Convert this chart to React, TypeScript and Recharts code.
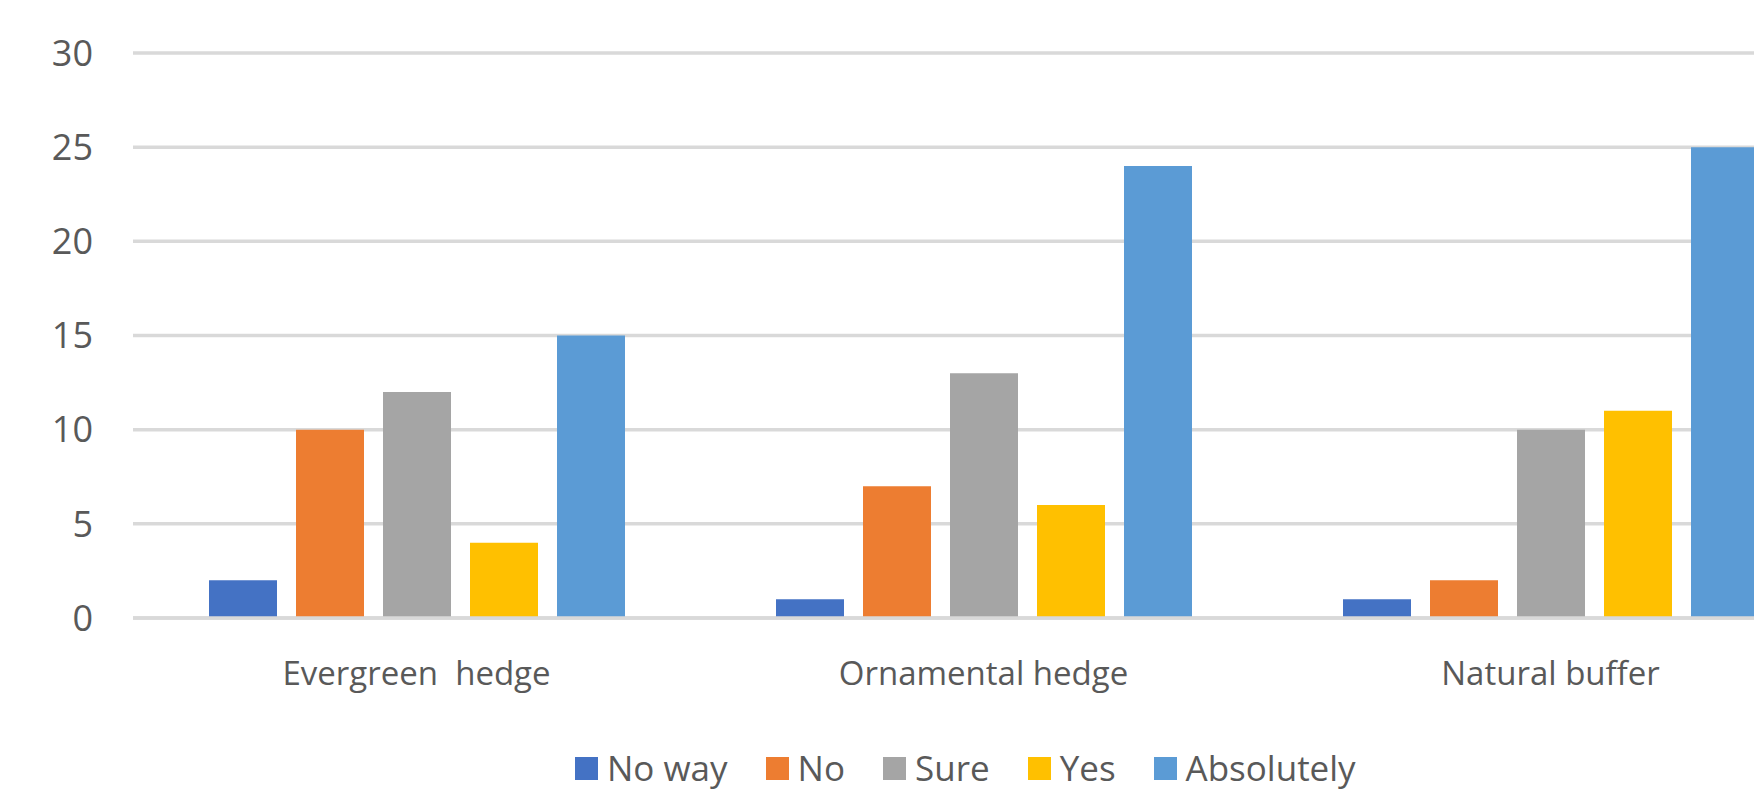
import { BarChart, Bar, XAxis, YAxis, CartesianGrid, Legend } from 'recharts'

// the first label keeps its double space (no-break space survives word splitting)
const categories = ['Evergreen\u00A0 hedge', 'Ornamental hedge', 'Natural buffer']
const noWay = [2, 1, 1]
const no = [10, 7, 2]
const sure = [12, 13, 10]
const yes = [4, 6, 11]
const absolutely = [15, 24, 25]
const yTicks = [0, 5, 10, 15, 20, 25, 30]

const series = [
  { key: 'noWay', name: 'No way', color: '#4472C4' },
  { key: 'no', name: 'No', color: '#ED7D31' },
  { key: 'sure', name: 'Sure', color: '#A5A5A5' },
  { key: 'yes', name: 'Yes', color: '#FFC000' },
  { key: 'absolutely', name: 'Absolutely', color: '#5B9BD5' },
]

const data = categories.map((name, i) => ({
  name,
  noWay: noWay[i],
  no: no[i],
  sure: sure[i],
  yes: yes[i],
  absolutely: absolutely[i],
}))

const FONT = '"Open Sans", sans-serif'
const TEXT = '#595959'

function LegendRow() {
  return (
    <div style={{ display: 'flex', alignItems: 'center', fontFamily: FONT, fontSize: 35, color: TEXT, whiteSpace: 'nowrap' }}>
      {series.map((s) => (
        <div key={s.key} style={{ display: 'flex', alignItems: 'center', marginRight: 38 }}>
          <div style={{ width: 23, height: 23, background: s.color, marginRight: 9 }} />
          <span style={{ lineHeight: '40px' }}>{s.name}</span>
        </div>
      ))}
    </div>
  )
}

export default function App() {
  return (
    <div style={{ position: 'fixed', left: 0, top: 0, width: 1754, height: 791, overflow: 'hidden', background: '#fff' }}>
      {/* the plot runs past the right edge, so the last bar is clipped */}
      <BarChart
        width={1900}
        height={791}
        data={data}
        margin={{ top: 53, right: 66, bottom: 143, left: 0 }}
        barSize={68}
        barGap={19}
      >
        <CartesianGrid horizontal vertical={false} stroke="#d9d9d9" strokeWidth={3.5} />
        <XAxis
          dataKey="name"
          height={30}
          axisLine={{ stroke: '#d9d9d9', strokeWidth: 3.5 }}
          tickLine={false}
          tickSize={0}
          tickMargin={44}
          tick={{ fill: TEXT, fontSize: 33, fontFamily: FONT }}
        />
        <YAxis
          width={133}
          domain={[0, 30]}
          ticks={yTicks}
          axisLine={false}
          tickLine={false}
          tickSize={0}
          tickMargin={40}
          tick={{ fill: TEXT, fontSize: 36, fontFamily: FONT }}
        />
        <Legend
          layout="horizontal"
          verticalAlign="middle"
          align="center"
          wrapperStyle={{ left: 575, top: 748, width: 'auto' }}
          content={() => <LegendRow />}
        />
        {series.map((s) => (
          <Bar key={s.key} dataKey={s.key} name={s.name} fill={s.color} isAnimationActive={false} />
        ))}
      </BarChart>
    </div>
  )
}
